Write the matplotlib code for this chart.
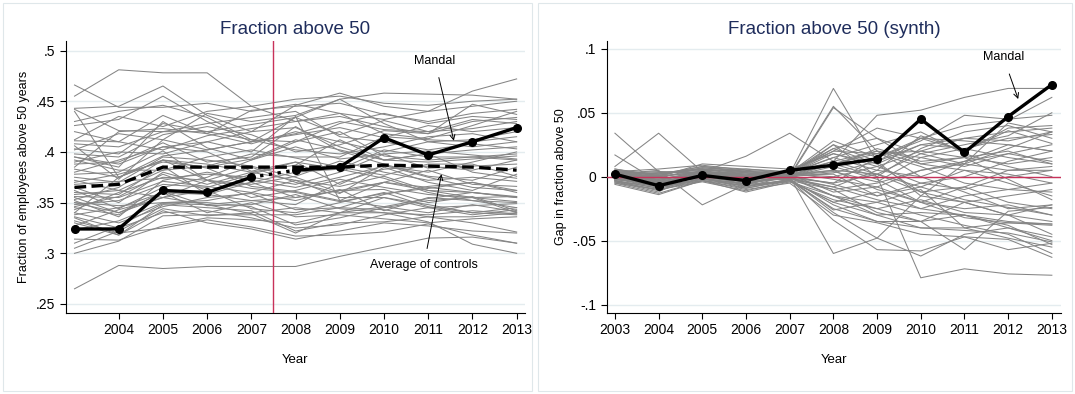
"""Fraction of employees above 50: Mandal vs controls, levels and synth gaps."""

import numpy as np
import matplotlib.pyplot as plt
from matplotlib.patches import Rectangle

plt.rcParams["font.family"] = ["Liberation Sans", "DejaVu Sans"]

years = np.arange(2003, 2014)

mandal_level = [.324, .324, .362, .360, .375, .382, .385, .414, .397, .410, .424]
controls_avg = [.365, .368, .385, .385, .385, .385, .385, .387, .386, .385, .382]

# one row per control municipality, 2003..2013
control_levels = [
    [.455, .481, .478, .478, .445, .452, .455, .448, .446, .450, .452],
    [.466, .444, .444, .448, .440, .447, .438, .432, .440, .445, .450],
    [.443, .445, .465, .436, .420, .446, .458, .445, .440, .460, .472],
    [.442, .421, .420, .420, .427, .434, .452, .458, .457, .456, .452],
    [.440, .375, .392, .388, .380, .372, .366, .376, .362, .360, .356],
    [.426, .432, .455, .430, .410, .434, .417, .431, .420, .423, .430],
    [.411, .410, .436, .418, .408, .420, .410, .400, .410, .405, .410],
    [.408, .405, .420, .428, .434, .440, .415, .410, .402, .408, .403],
    [.402, .418, .412, .438, .430, .436, .452, .428, .410, .412, .420],
    [.395, .385, .430, .404, .392, .410, .420, .396, .392, .395, .398],
    [.390, .400, .398, .410, .420, .424, .405, .392, .398, .402, .405],
    [.388, .390, .409, .390, .395, .425, .401, .388, .376, .372, .385],
    [.385, .420, .423, .418, .441, .445, .448, .437, .430, .438, .442],
    [.380, .392, .405, .400, .381, .390, .383, .402, .395, .395, .392],
    [.378, .380, .401, .372, .385, .370, .359, .385, .370, .362, .378],
    [.375, .370, .395, .392, .386, .375, .360, .370, .382, .368, .366],
    [.372, .362, .382, .386, .398, .395, .395, .415, .412, .410, .415],
    [.368, .371, .374, .378, .375, .368, .380, .398, .384, .386, .388],
    [.365, .350, .380, .368, .380, .387, .412, .392, .390, .393, .396],
    [.362, .344, .365, .375, .392, .405, .393, .398, .401, .397, .393],
    [.360, .358, .386, .358, .370, .355, .362, .363, .350, .356, .342],
    [.356, .355, .371, .366, .360, .372, .355, .355, .348, .340, .338],
    [.355, .340, .355, .362, .370, .380, .383, .374, .360, .352, .345],
    [.353, .365, .392, .384, .366, .361, .352, .346, .340, .348, .341],
    [.350, .347, .350, .352, .360, .352, .363, .342, .355, .352, .350],
    [.348, .352, .368, .365, .378, .390, .368, .387, .375, .365, .362],
    [.345, .338, .361, .347, .348, .358, .344, .340, .338, .342, .339],
    [.343, .360, .375, .372, .368, .376, .391, .380, .372, .375, .371],
    [.340, .330, .346, .355, .359, .343, .345, .343, .336, .336, .340],
    [.338, .345, .360, .340, .350, .336, .338, .334, .330, .334, .336],
    [.335, .318, .348, .345, .342, .322, .330, .331, .336, .330, .321],
    [.332, .320, .325, .333, .326, .317, .318, .321, .329, .318, .310],
    [.330, .318, .342, .330, .324, .314, .322, .330, .327, .322, .320],
    [.323, .332, .350, .350, .346, .328, .335, .345, .352, .355, .340],
    [.314, .313, .327, .335, .333, .330, .340, .340, .331, .309, .300],
    [.310, .327, .349, .348, .339, .320, .340, .355, .345, .347, .349],
    [.305, .322, .344, .337, .340, .345, .340, .346, .354, .360, .355],
    [.300, .312, .337, .338, .338, .338, .345, .358, .366, .370, .362],
    [.265, .288, .285, .287, .287, .287, .297, .306, .315, .316, .310],
    [.412, .435, .425, .440, .445, .430, .435, .425, .418, .430, .434],
    [.406, .373, .412, .402, .410, .417, .424, .414, .426, .420, .424],
    [.398, .395, .417, .425, .417, .400, .407, .421, .418, .447, .437],
    [.392, .382, .382, .395, .402, .394, .385, .377, .388, .388, .376],
    [.370, .378, .390, .385, .393, .412, .402, .392, .398, .380, .374],
    [.358, .362, .355, .372, .364, .360, .351, .359, .364, .370, .360],
    [.350, .340, .360, .358, .352, .348, .370, .383, .386, .382, .392],
    [.430, .440, .446, .434, .412, .410, .428, .438, .428, .435, .432],
    [.420, .410, .402, .416, .423, .430, .438, .418, .413, .426, .440],
    [.340, .375, .392, .372, .355, .362, .373, .365, .358, .355, .351],
    [.327, .343, .355, .348, .352, .355, .362, .370, .362, .355, .356],
    [.395, .388, .405, .410, .400, .435, .352, .370, .365, .360, .355],
    [.403, .398, .428, .420, .412, .402, .398, .405, .415, .418, .410],
    [.383, .375, .396, .402, .410, .418, .430, .422, .420, .432, .428],
    [.352, .336, .372, .380, .372, .365, .375, .386, .380, .390, .400],
    [.346, .356, .378, .362, .344, .340, .350, .360, .346, .340, .345],
    [.336, .325, .340, .342, .335, .325, .328, .338, .345, .338, .343],
]

mandal_gap = [.002, -.007, .001, -.003, .005, .009, .014, .045, .019, .047, .072]

# placebo gaps (unit minus its synthetic control), 2003..2013
placebo_gaps = [
    [.034, .004, .003, .001, .002, .069, .012, -.015, -.020, -.030, -.035],
    [.017, -.004, .002, -.002, .001, .055, .020, .000, .012, .025, .020],
    [.008, .034, .004, .003, .000, .054, .030, .018, .010, .005, .008],
    [.002, .005, -.022, -.006, .001, .025, .000, -.079, -.072, -.076, -.077],
    [.001, .003, .004, .016, .034, .012, .048, .052, .062, .069, .069],
    [.003, .002, .006, .004, .002, .020, .038, .030, .040, .044, .062],
    [-.002, -.006, .002, -.004, .000, -.060, -.048, -.015, .010, .022, .035],
    [.004, .006, .009, .005, -.002, -.034, -.057, -.058, -.047, -.057, -.052],
    [-.004, -.012, .006, -.008, -.002, -.028, -.048, -.062, -.045, -.040, -.050],
    [.000, -.008, .002, -.003, .003, .028, .015, .028, .048, .045, .048],
    [.002, -.005, -.001, -.006, .002, .015, .005, .032, .020, .038, .040],
    [-.006, -.014, -.003, -.012, -.004, -.018, -.025, -.035, -.057, -.027, -.024],
    [.005, .002, .008, .006, .004, .022, .010, .025, .030, .035, .038],
    [-.001, -.003, .000, .003, .001, .010, .018, .020, .030, .028, .035],
    [.003, -.006, .005, -.005, -.001, -.010, -.005, .005, .012, .018, .025],
    [-.003, -.009, -.001, -.009, -.003, -.020, -.030, -.028, -.030, -.035, -.037],
    [.001, .001, .003, .000, .005, .008, .022, .012, .015, .010, .015],
    [-.005, -.010, -.004, -.011, -.003, -.025, -.035, -.040, -.040, -.048, -.055],
    [.006, .000, .010, .008, .006, .018, .008, -.005, -.010, .000, .005],
    [-.002, -.004, .001, -.002, .002, .005, -.010, -.020, -.025, -.022, -.030],
    [.002, -.002, .004, .002, -.001, -.008, -.018, -.025, -.015, -.010, -.012],
    [-.004, -.007, -.002, -.007, -.004, -.015, -.020, -.030, -.038, -.045, -.060],
    [.000, .003, .006, .001, .000, .003, .012, .025, .022, .015, .010],
    [.004, -.001, .007, .004, .003, .012, .020, .010, .005, -.005, -.015],
    [-.001, -.008, -.002, -.005, .000, -.005, .002, -.012, -.008, -.020, -.025],
    [.003, .004, .002, .001, -.002, -.022, -.035, -.035, -.030, -.040, -.047],
    [-.003, -.011, -.001, -.008, .001, .004, -.004, .015, .022, .030, .033],
    [.001, -.003, .005, -.001, .004, .020, .018, .008, -.005, -.010, -.005],
    [.005, .001, .008, .004, .002, -.012, -.008, -.020, -.032, -.036, -.038],
    [-.005, -.013, -.003, -.010, -.005, -.030, -.036, -.045, -.047, -.049, -.063],
    [.002, -.001, .001, .006, .003, .015, .025, .035, .018, .008, .000],
    [-.002, -.005, .003, -.002, .001, .002, -.015, -.005, .000, .012, .020],
    [.000, -.004, .000, -.004, -.001, -.015, -.025, -.018, -.028, -.030, -.022],
    [.004, .002, .006, .003, .000, .010, .000, .022, .035, .040, .030],
    [-.001, -.007, .001, -.006, .002, .018, .010, -.012, -.020, -.015, -.010],
    [.002, .000, .004, .000, -.001, -.005, .015, .030, .028, .025, .020],
    [-.003, -.009, -.002, -.006, -.003, -.020, -.012, -.025, -.030, -.038, -.053],
    [.001, -.002, .003, .002, .001, .005, .002, -.008, .005, .002, -.005],
    [.003, -.004, .002, -.001, .002, .022, .030, .010, .015, .020, .010],
    [-.002, -.006, .000, -.003, -.002, -.026, -.020, -.010, -.040, -.036, -.037],
    [.006, .001, .007, .005, .003, -.002, -.008, .005, .010, .042, .035],
    [-.004, -.010, -.003, -.009, -.002, -.008, .005, .000, -.012, -.025, -.022],
    [.000, -.002, .002, .000, .001, .012, .002, .018, .025, .032, .050],
    [.002, -.006, .004, -.002, .000, -.015, -.030, -.040, -.042, -.044, -.051],
    [-.001, -.005, -.001, -.004, .000, .008, -.002, -.020, -.008, .005, .005],
    [.003, .003, .005, .004, .002, .000, .008, .020, .015, -.002, -.018],
    [-.002, -.008, -.003, -.007, -.003, -.010, -.028, -.035, -.020, -.030, -.045],
    [.001, .000, .004, .001, .003, .025, .012, .030, .020, .036, .026],
    [-.001, -.004, .002, -.002, .001, -.006, -.015, -.008, -.018, -.024, -.030],
    [.002, -.003, .003, .001, .002, .010, .020, .015, .008, .018, .012],
]

left_yticks = [.25, .3, .35, .4, .45, .5]
left_yticklabels = [".25", ".3", ".35", ".4", ".45", ".5"]
right_yticks = [-.1, -.05, 0, .05, .1]
right_yticklabels = ["-.1", "-.05", "0", ".05", ".1"]

TITLE_COLOR = "#1f2d5c"
GREY = "#858585"
RED = "#c8325a"
GRID = "#e4ecef"


def style_axes(ax, yticks, yticklabels, xticks):
    for side in ("top", "right"):
        ax.spines[side].set_visible(False)
    ax.set_yticks(yticks)
    ax.set_yticklabels(yticklabels)
    ax.set_xticks(xticks)
    ax.tick_params(labelsize=10, direction="out", length=4, width=0.8)
    ax.yaxis.grid(True, color=GRID, linewidth=1)
    ax.set_axisbelow(True)
    ax.set_xlabel("Year", fontsize=9.5, labelpad=12)


fig = plt.figure(figsize=(10.75, 3.94), dpi=100)

# light frames around each sub-graph
for x0, w in [(0.003, 0.492), (0.5, 0.497)]:
    fig.patches.append(Rectangle((x0, 0.008), w, 0.984, transform=fig.transFigure,
                                 fill=False, edgecolor="#dfe7ea", linewidth=0.8))

# --- left: levels
ax = fig.add_axes([0.0611, 0.2063, 0.4273, 0.6904])
for row in control_levels:
    ax.plot(years, row, color=GREY, linewidth=0.75, zorder=2)
ax.axvline(2007.5, color=RED, linewidth=1, zorder=3)
ax.plot(years, controls_avg, color="black", linestyle=(0, (3.5, 1.6)), linewidth=2.4, zorder=4)
ax.plot(years[:5], mandal_level[:5], "o-", color="black", linewidth=2.4, markersize=5.5, zorder=5)
ax.plot(years[4:6], mandal_level[4:6], ":", color="black", linewidth=2.4, zorder=5)
ax.plot(years[5:], mandal_level[5:], "o-", color="black", linewidth=2.4, markersize=5.5, zorder=5)
ax.annotate("Mandal", xy=(2011.58, .411), xytext=(2011.15, .490), fontsize=9,
            ha="center", va="center",
            arrowprops=dict(arrowstyle="->", color="black", linewidth=0.7, shrinkA=6, shrinkB=0))
ax.annotate("Average of controls", xy=(2011.3, .378), xytext=(2010.9, .288), fontsize=9,
            ha="center", va="center",
            arrowprops=dict(arrowstyle="->", color="black", linewidth=0.7, shrinkA=6, shrinkB=0))
ax.set_xlim(2002.8, 2013.19)
ax.set_ylim(.2414, .5097)
style_axes(ax, left_yticks, left_yticklabels, years[1:])
ax.set_ylabel("Fraction of employees above 50 years", fontsize=9)
ax.set_title("Fraction above 50", fontsize=13.5, color=TITLE_COLOR, pad=5)

# --- right: synth gaps
ax = fig.add_axes([0.5643, 0.2063, 0.4227, 0.6904])
for row in placebo_gaps:
    ax.plot(years, row, color=GREY, linewidth=0.75, zorder=2)
ax.axhline(0, color=RED, linewidth=1, zorder=3)
ax.plot(years, mandal_gap, "o-", color="black", linewidth=2.4, markersize=5.5, zorder=5)
ax.annotate("Mandal", xy=(2012.23, .0607), xytext=(2011.89, .0933), fontsize=9,
            ha="center", va="center",
            arrowprops=dict(arrowstyle="->", color="black", linewidth=0.7, shrinkA=6, shrinkB=0))
ax.set_xlim(2002.81, 2013.21)
ax.set_ylim(-.1063, .1063)
style_axes(ax, right_yticks, right_yticklabels, years)
ax.set_ylabel("Gap in fraction above 50", fontsize=9)
ax.set_title("Fraction above 50 (synth)", fontsize=13.5, color=TITLE_COLOR, pad=5)

fig.savefig("out.png", dpi=100)
